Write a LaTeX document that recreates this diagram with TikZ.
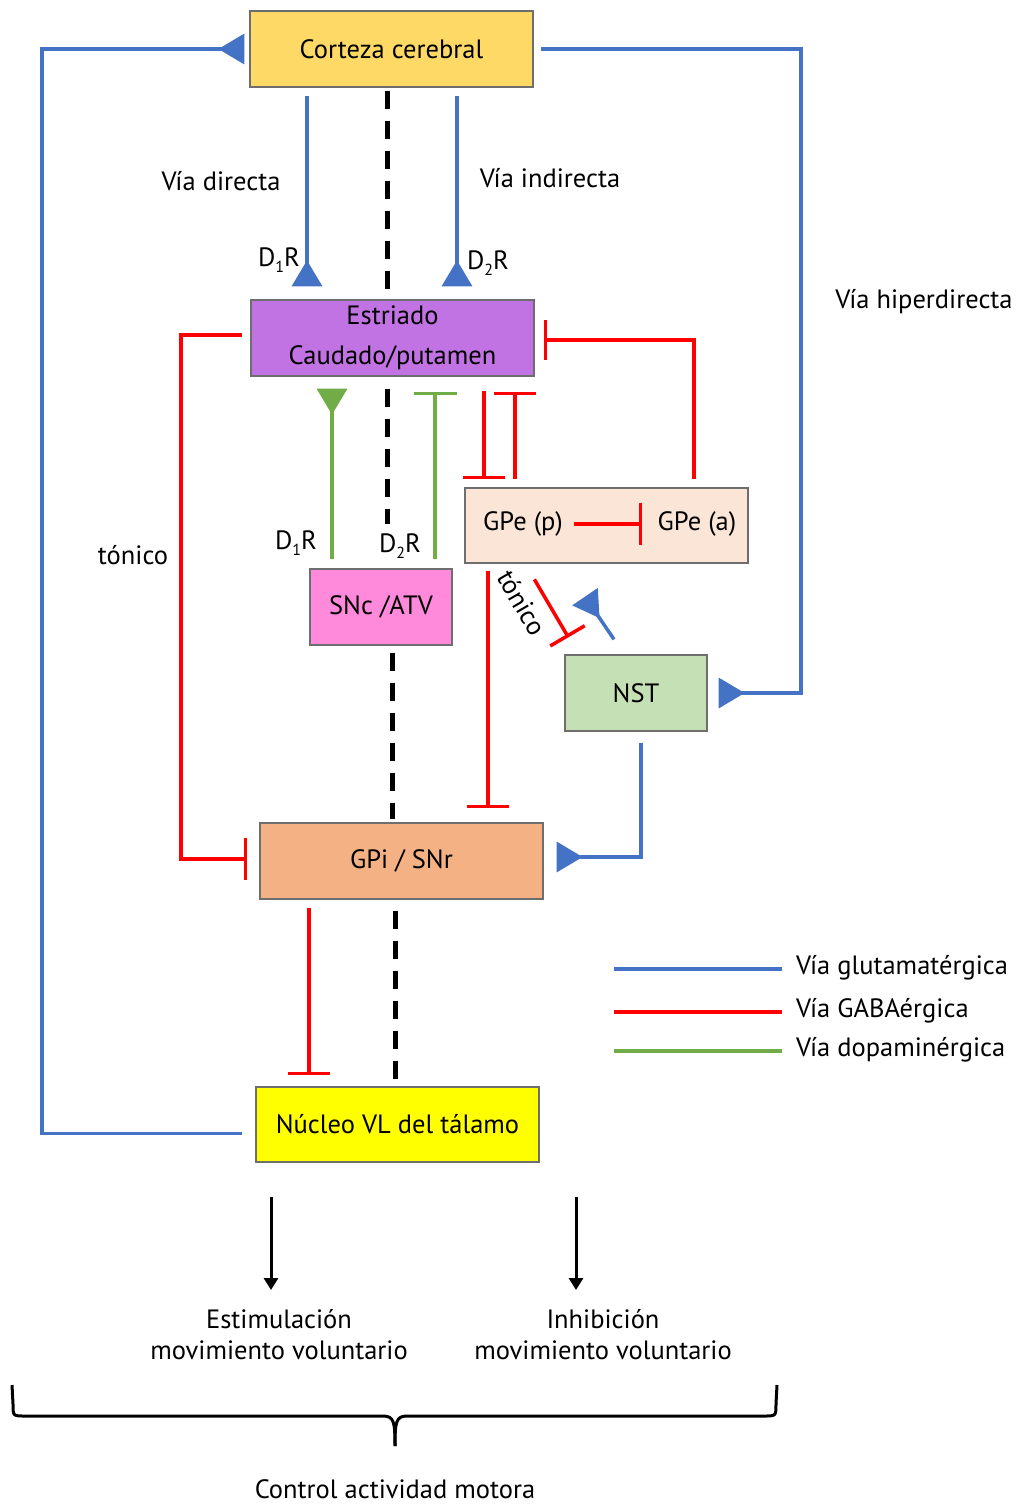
\documentclass[tikz,border=0pt]{standalone}
\usepackage{fontspec}
\setmainfont{PT Sans}
\usetikzlibrary{arrows.meta,calc}
\definecolor{bluec}{HTML}{4472C4}
\definecolor{redc}{HTML}{FF0000}
\definecolor{greenc}{HTML}{70AD47}
\definecolor{boxgray}{HTML}{6E6E6E}
\definecolor{fcortex}{HTML}{FFD966}
\definecolor{festr}{HTML}{C273E3}
\definecolor{fgpe}{HTML}{FBE5D6}
\definecolor{fsnc}{HTML}{FF89DB}
\definecolor{fnst}{HTML}{C5E0B4}
\definecolor{fgpi}{HTML}{F4B183}
\definecolor{fvl}{HTML}{FFFF00}
\newcommand\lab{\fontsize{26.5}{40}\selectfont}
\newcommand\labb{\fontsize{26.5}{31}\selectfont}
\newcommand\lsub[1]{\raisebox{-6pt}{\fontsize{16}{16}\selectfont #1}}
\begin{document}
\begin{tikzpicture}[x=1pt,y=-1pt,
  box/.style={draw=boxgray, line width=1.3pt, minimum width=283pt, minimum height=76pt, inner sep=0pt, font=\lab, align=center},
  sbox/.style={box, minimum width=142pt},
  txt/.style={font=\lab, inner sep=0pt, align=center},
  glu/.style={draw=bluec, line width=3.5pt},
  gaba/.style={draw=redc, line width=3.5pt},
  dopa/.style={draw=greenc, line width=3.5pt},
  exc/.style={-{Triangle[reversed,length=26pt,width=30pt]}},
  inh/.style={-{Bar[width=42pt]}},
  midline/.style={draw=black, line width=5pt, dash pattern=on 18pt off 12pt},
  outarrow/.style={draw=black, line width=3pt, -{Triangle[length=12pt,width=14pt]}}
]
\useasboundingbox (0,0) rectangle (1018,1505);

% boxes
\node[box, fill=fcortex] (cortex) at (391.5,49) {Corteza cerebral};
\node[box, fill=festr] (estr) at (392.5,338) {Estriado\\Caudado/putamen};
\node[box, fill=fgpe, minimum height=75pt] (gpe) at (606.5,525.5) {};
\node[txt] (gpep) at (523,524) {GPe (p)};
\node[txt] (gpea) at (697,524) {GPe (a)};
\node[sbox, fill=fsnc] (snc) at (381,607) {SNc /ATV};
\node[sbox, fill=fnst] (nst) at (636,693) {NST};
\node[box, fill=fgpi] (gpi) at (401.5,861) {GPi / SNr};
\node[box, fill=fvl, minimum height=75pt] (vl) at (397.5,1124.5) {Núcleo VL del tálamo};

% labels
\node[txt] (ldir) at (221,181) {Vía directa};
\node[txt] (lind) at (550,178) {Vía indirecta};
\node[txt] (lhip) at (924,302) {Vía hiperdirecta};
\node[txt] (lton) at (133,555) {tónico};
\node[txt] (d1a) at (279,260) {D\lsub{1}R};
\node[txt] (d2a) at (488,263) {D\lsub{2}R};
\node[txt] (d1b) at (296,543) {D\lsub{1}R};
\node[txt] (d2b) at (400,546) {D\lsub{2}R};
\node[txt, rotate=-60] (ton2) at (522,603) {tónico};

% dashed midline
\draw[midline] ([shift={(-4.5,3)}]cortex.south) -- ([shift={(-5.5,-8)}]estr.north);
\draw[midline] ([shift={(-5,12)}]estr.south) -- ([shift={(6.5,-44)}]snc.north);
\draw[midline] ([shift={(11,7)}]snc.south) -- ([shift={(-9.5,-3)}]gpi.north);
\draw[midline] ([shift={(-6.5,11)}]gpi.south) -- ([shift={(-2.5,-7)}]vl.north);

% glutamatergic
\draw[glu, exc] ([shift={(-13,9)}]vl.west) -| (42,49) -- ([xshift=-5pt]cortex.west);
\draw[glu, exc] ([xshift=7pt]cortex.east) -- (801,49) |- ([xshift=11pt]nst.east);
\draw[glu, exc] ([shift={(-84.5,8)}]cortex.south) -- ([shift={(-85.5,-13)}]estr.north);
\draw[glu, exc] ([shift={(65.5,8)}]cortex.south) -- ([shift={(64.5,-13)}]estr.north);
\draw[glu, exc] ([shift={(-22,-15)}]nst.north) -- ([shift={(-21.5,33)}]gpe.south);
\draw[glu, exc] ([shift={(5,11)}]nst.south) |- ([shift={(13,-4)}]gpi.east);

% GABAergic
\draw[gaba, inh] ([shift={(-8,-3)}]estr.west) -| (181,859) -- ([shift={(-12,-2)}]gpi.west);
\draw[gaba, -{Bar[width=40pt]}] ([shift={(87.5,-8)}]gpe.north) |- ([shift={(9,2)}]estr.east);
\draw[gaba, inh] ([shift={(91.5,14)}]estr.south) -- ([shift={(-122.5,-8)}]gpe.north);
\draw[gaba, inh] ([shift={(-91.5,-8)}]gpe.north) -- ([shift={(122.5,15)}]estr.south);
\draw[gaba, inh] ([shift={(-32.5,-1.5)}]gpe.center) -- ([shift={(35.5,-1.5)}]gpe.center);
\draw[gaba, inh] ([shift={(-118.5,7)}]gpe.south) -- ([shift={(86.5,-14)}]gpi.north);
\draw[gaba, -{Bar[width=40pt]}] ([shift={(-30,-75)}]nst.north west) -- ([shift={(4,-17)}]nst.north west);
\draw[gaba, inh] ([shift={(-92.5,8)}]gpi.south) -- ([shift={(-88.5,-11)}]vl.north);

% dopaminergic
\draw[dopa, exc] ([shift={(-49,-9)}]snc.north) -- ([shift={(-60.5,12)}]estr.south);
\draw[dopa, -{Bar[width=43pt]}] ([shift={(54,-9)}]snc.north) -- ([shift={(42.5,15)}]estr.south);

% legend
\coordinate (lg1a) at (614,969); \coordinate (lg1b) at (782,969);
\coordinate (lg2a) at (614,1012); \coordinate (lg2b) at (782,1012);
\coordinate (lg3a) at (614,1051); \coordinate (lg3b) at (782,1051);
\draw[glu] (lg1a) -- (lg1b);
\draw[gaba] (lg2a) -- (lg2b);
\draw[dopa] (lg3a) -- (lg3b);
\node[txt, anchor=west] (lgt1) at (796,968) {Vía glutamatérgica};
\node[txt, anchor=west] (lgt2) at (796,1011) {Vía GABAérgica};
\node[txt, anchor=west] (lgt3) at (796,1050) {Vía dopaminérgica};

% outputs
\node[txt, font=\labb] (stim) at (279,1334.5) {Estimulación\\movimiento voluntario};
\node[txt, font=\labb] (inhb) at (603,1334.5) {Inhibición\\movimiento voluntario};
\coordinate (o1a) at (271,1197); \coordinate (o1b) at (271,1290);
\coordinate (o2a) at (576,1197); \coordinate (o2b) at (576,1290);
\draw[outarrow] (o1a) -- (o1b);
\draw[outarrow] (o2a) -- (o2b);

% brace
\draw[line width=3pt, line join=round] (12,1385) -- (13,1404) .. controls (13,1416) .. (25,1416) -- (383,1416) .. controls (394,1416) and (395,1422) .. (395,1446);
\draw[line width=3pt, line join=round] (777,1385) -- (776,1404) .. controls (776,1416) .. (764,1416) -- (407,1416) .. controls (396,1416) and (395,1422) .. (395,1446);
\node[txt] (ctrl) at (395,1489) {Control actividad motora};
\end{tikzpicture}
\end{document}
